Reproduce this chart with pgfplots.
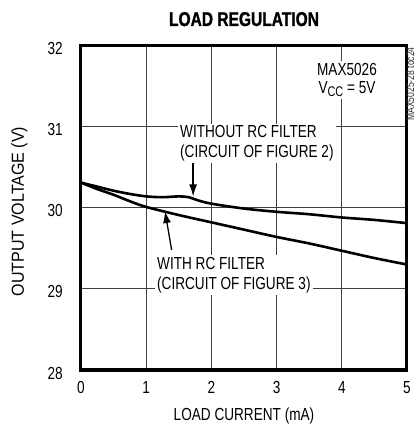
\documentclass[border=0pt]{standalone}
\usepackage{fontspec}
\setmainfont{Liberation Sans}[FakeStretch=0.78]
\newfontfamily\titlefont{Liberation Sans}[FakeStretch=0.78, BoldFeatures={FakeBold=1.2}]
\newfontfamily\ylabfont{Liberation Sans}[FakeStretch=0.92]
\usepackage{pgfplots}
\pgfplotsset{compat=1.18}
\usetikzlibrary{arrows.meta}
\begin{document}
\begin{tikzpicture}
\path[use as bounding box] (-81bp,-62bp) rectangle (336bp,370bp);
\begin{axis}[at={(0,0)}, anchor=south west, scale only axis,
  width=326bp, height=324.5bp,
  xmin=0, xmax=5, ymin=28, ymax=32,
  xtick={0,1,2,3,4,5}, ytick={28,29,30,31,32},
  grid=major, grid style={black!75, line width=0.9bp},
  axis line style={line width=3bp},
  major tick length=0pt, tick style={draw=none},
  /pgf/number format/assume math mode=true,
  ticklabel style={font=\fontsize{17.5}{20}\selectfont},
  yticklabel style={anchor=east, inner sep=0pt, xshift=-18bp, yshift=-3bp},
  xticklabel style={anchor=north, inner sep=0pt, yshift=-11bp},
  clip=false]
\addplot[black, line width=2.6bp, smooth, tension=0.5] coordinates {
(0,30.31) (0.25,30.26) (0.5,30.21) (0.75,30.17) (1,30.14) (1.25,30.13) (1.5,30.14) (1.65,30.13) (1.8,30.09) (2,30.05) (2.5,29.99) (3,29.95) (3.5,29.92) (4,29.88) (4.5,29.85) (5,29.81)};
\addplot[black, line width=2.6bp, smooth, tension=0.5] coordinates {
(0,30.31) (0.25,30.23) (0.5,30.16) (0.75,30.08) (1,30.01) (1.5,29.91) (2,29.82) (2.5,29.73) (3,29.64) (3.5,29.56) (4,29.47) (4.5,29.38) (5,29.30)};
\node[anchor=north west, align=left, fill=white, inner sep=2bp, font=\fontsize{17.5}{20}\selectfont] at (axis cs:1.488,31.04) {WITHOUT RC FILTER\\(CIRCUIT OF FIGURE 2)};
\node[anchor=north west, align=left, fill=white, inner sep=2bp, font=\fontsize{17.5}{20}\selectfont] at (axis cs:1.135,29.417) {WITH RC FILTER\\(CIRCUIT OF FIGURE 3)};
\node[anchor=north, align=center, fill=white, inner sep=3bp, font=\fontsize{17.5}{18}\selectfont] at (axis cs:4.08,31.815) {MAX5026\\V\raisebox{-2.5bp}{\fontsize{14}{14}\selectfont CC} = 5V};
\draw[line width=1.3bp, -{Latex[length=12bp,width=8bp]}] (axis cs:1.72,30.55) -- (axis cs:1.72,30.14);
\draw[line width=1.3bp, -{Latex[length=12bp,width=8bp]}] (axis cs:1.39,29.48) -- (axis cs:1.288,29.96);
\end{axis}
\node[anchor=base, font=\titlefont\bfseries\fontsize{20}{22}\selectfont] at (163bp,344bp) {LOAD REGULATION};
\node[anchor=base, font=\fontsize{17.5}{20}\selectfont] at (163bp,-50bp) {LOAD CURRENT (mA)};
\node[anchor=base, rotate=90, font=\ylabfont\fontsize{17.5}{20}\selectfont] at (-57bp,158.5bp) {OUTPUT VOLTAGE (V)};
\node[anchor=base, rotate=90, font=\fontsize{11}{12}\selectfont, black!80] at (333bp,286bp) {MAX5025-28 toc24};
\end{tikzpicture}
\end{document}
